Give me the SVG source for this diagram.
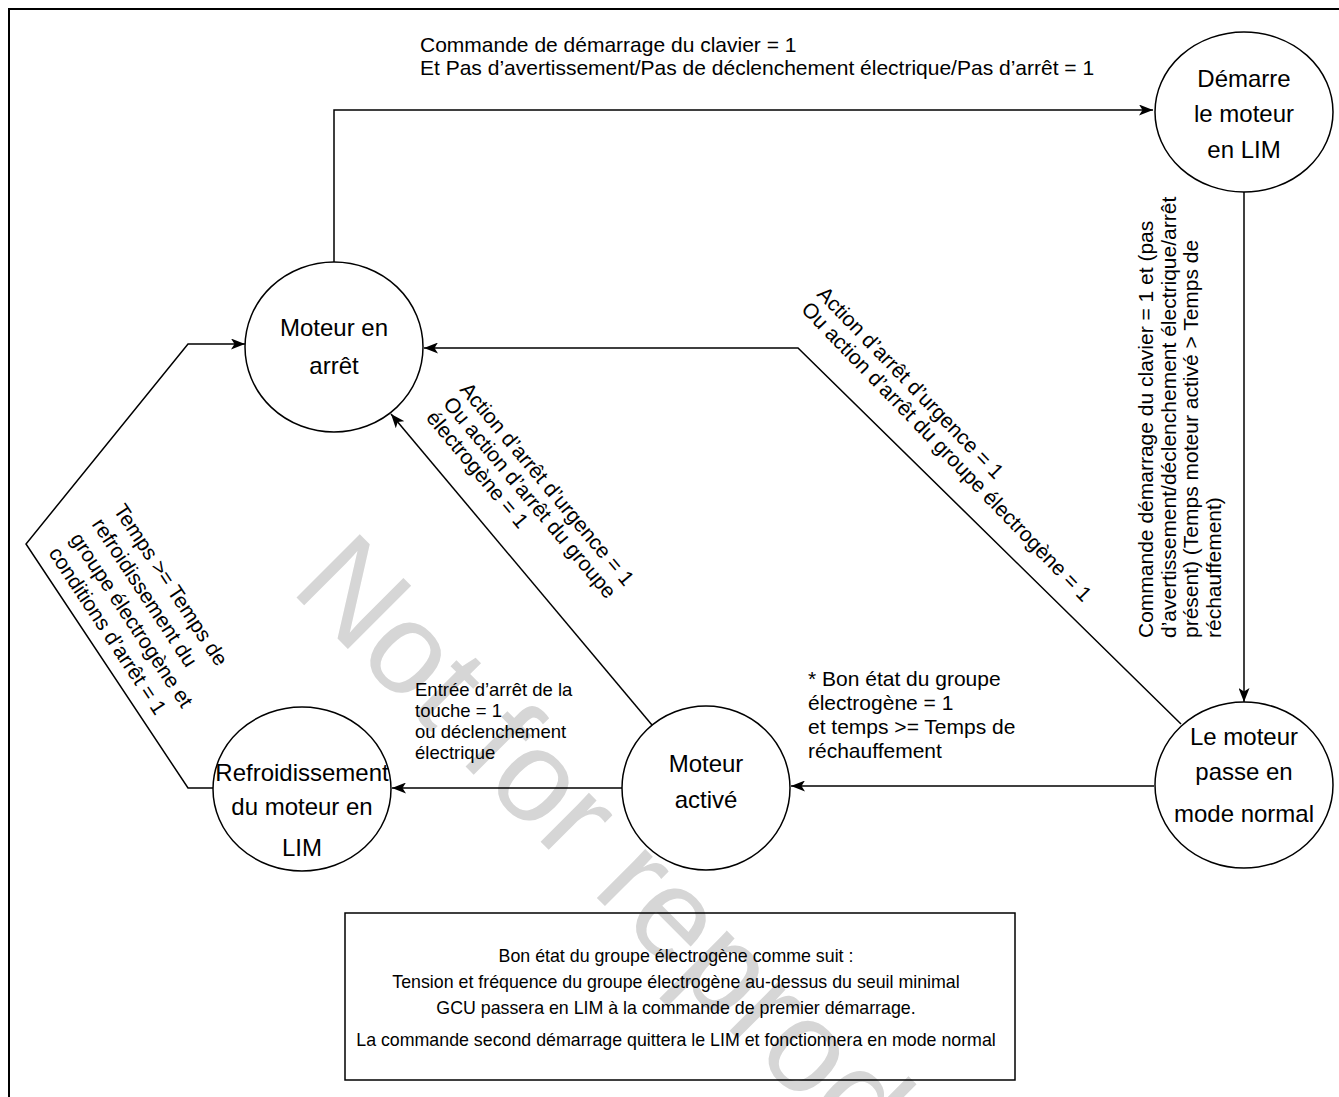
<svg xmlns="http://www.w3.org/2000/svg" width="1339" height="1097" viewBox="0 0 1339 1097">
<style>
.node ellipse{fill:#fff;stroke:#000;stroke-width:1.5}
.nt{font-family:"Liberation Sans",Arial,sans-serif;font-size:24px;fill:#000;text-anchor:middle}
.lbl{font-family:"Liberation Sans",Arial,sans-serif;font-size:21px;fill:#000}
.conn path{fill:none;stroke:#000;stroke-width:1.5}
.box{font-family:"Liberation Sans",Arial,sans-serif;font-size:17.8px;fill:#000;text-anchor:middle}
.wm{font-family:"Liberation Sans",Arial,sans-serif;font-size:130px;fill:#d6d6d6}
</style>
<defs>
<marker id="ah" viewBox="0 0 14 11" refX="14" refY="5.5" markerWidth="14" markerHeight="11" markerUnits="userSpaceOnUse" orient="auto">
<path d="M0,0 L14,5.5 L0,11 L3.5,5.5 z" fill="#000"/>
</marker>
</defs>
<rect width="1339" height="1097" fill="#fff"/>
<text class="wm" transform="translate(289,590) rotate(45)">Not for reproduction</text>
<rect x="9" y="9" width="1345" height="1100" fill="none" stroke="#000" stroke-width="2"/>

<g id="connectors" class="conn">
<path d="M334,262 V110 H1153" marker-end="url(#ah)"/>
<path d="M1244,192 V702" marker-end="url(#ah)"/>
<path d="M1154,786 H791" marker-end="url(#ah)"/>
<path d="M622,788 H392" marker-end="url(#ah)"/>
<path d="M652,725 L391,414" marker-end="url(#ah)"/>
<path d="M1181,724 L798,348 H424" marker-end="url(#ah)"/>
<path d="M213,788 H188 L26,544 L188,344 H245" marker-end="url(#ah)"/>
</g>

<g id="arret" class="node">
<ellipse cx="334" cy="347" rx="89" ry="85"/>
<text class="nt" x="334" y="336">Moteur en</text>
<text class="nt" x="334" y="374">arrêt</text>
</g>
<g id="demarre" class="node">
<ellipse cx="1244" cy="112" rx="89" ry="80"/>
<text class="nt" x="1244" y="87">Démarre</text>
<text class="nt" x="1244" y="122">le moteur</text>
<text class="nt" x="1244" y="158">en LIM</text>
</g>
<g id="normal" class="node">
<ellipse cx="1244" cy="785" rx="89" ry="83"/>
<text class="nt" x="1244" y="745">Le moteur</text>
<text class="nt" x="1244" y="780">passe en</text>
<text class="nt" x="1244" y="822">mode normal</text>
</g>
<g id="active" class="node">
<ellipse cx="706" cy="788" rx="84" ry="82"/>
<text class="nt" x="706" y="772">Moteur</text>
<text class="nt" x="706" y="808">activé</text>
</g>
<g id="refroid" class="node">
<ellipse cx="302" cy="789" rx="89" ry="82"/>
<text class="nt" x="302" y="781">Refroidissement</text>
<text class="nt" x="302" y="815">du moteur en</text>
<text class="nt" x="302" y="856">LIM</text>
</g>

<g id="labels">
<text class="lbl" x="420" y="52">Commande de démarrage du clavier = 1</text>
<text class="lbl" x="420" y="75">Et Pas d’avertissement/Pas de déclenchement électrique/Pas d’arrêt = 1</text>

<g transform="translate(1153,638) rotate(-90)" style="font-size:19.8px">
<text class="lbl" x="0" y="0">Commande démarrage du clavier = 1 et (pas</text>
<text class="lbl" x="0" y="22.5">d’avertissement/déclenchement électrique/arrêt</text>
<text class="lbl" x="0" y="45">présent) (Temps moteur activé &gt; Temps de</text>
<text class="lbl" x="0" y="67.5">réchauffement)</text>
</g>

<g transform="translate(816,295) rotate(46)">
<text class="lbl" x="0" y="0">Action d’arrêt d’urgence = 1</text>
<text class="lbl" x="0" y="22">Ou action d’arrêt du groupe électrogène = 1</text>
</g>

<g transform="translate(459,390) rotate(50)">
<text class="lbl" x="0" y="0">Action d’arrêt d’urgence = 1</text>
<text class="lbl" x="0" y="22">Ou action d’arrêt du groupe</text>
<text class="lbl" x="0" y="44">électrogène = 1</text>
</g>

<g transform="translate(113,510) rotate(56.6)">
<text class="lbl" x="0" y="0">Temps &gt;= Temps de</text>
<text class="lbl" x="0" y="26">refroidissement du</text>
<text class="lbl" x="0" y="52">groupe électrogène et</text>
<text class="lbl" x="0" y="78">conditions d’arrêt = 1</text>
</g>

<text class="lbl" x="415" y="696" style="font-size:18.5px">Entrée d’arrêt de la</text>
<text class="lbl" x="415" y="717" style="font-size:18.5px">touche = 1</text>
<text class="lbl" x="415" y="738" style="font-size:18.5px">ou déclenchement</text>
<text class="lbl" x="415" y="759" style="font-size:18.5px">électrique</text>

<text class="lbl" x="808" y="686">* Bon état du groupe</text>
<text class="lbl" x="808" y="710">électrogène = 1</text>
<text class="lbl" x="808" y="734">et temps &gt;= Temps de</text>
<text class="lbl" x="808" y="758">réchauffement</text>
</g>

<g id="note">
<rect x="345" y="913" width="670" height="167" fill="none" stroke="#000" stroke-width="1.5"/>
<text class="box" x="676" y="962">Bon état du groupe électrogène comme suit :</text>
<text class="box" x="676" y="988">Tension et fréquence du groupe électrogène au-dessus du seuil minimal</text>
<text class="box" x="676" y="1014">GCU passera en LIM à la commande de premier démarrage.</text>
<text class="box" x="676" y="1046">La commande second démarrage quittera le LIM et fonctionnera en mode normal</text>
</g>
</svg>
